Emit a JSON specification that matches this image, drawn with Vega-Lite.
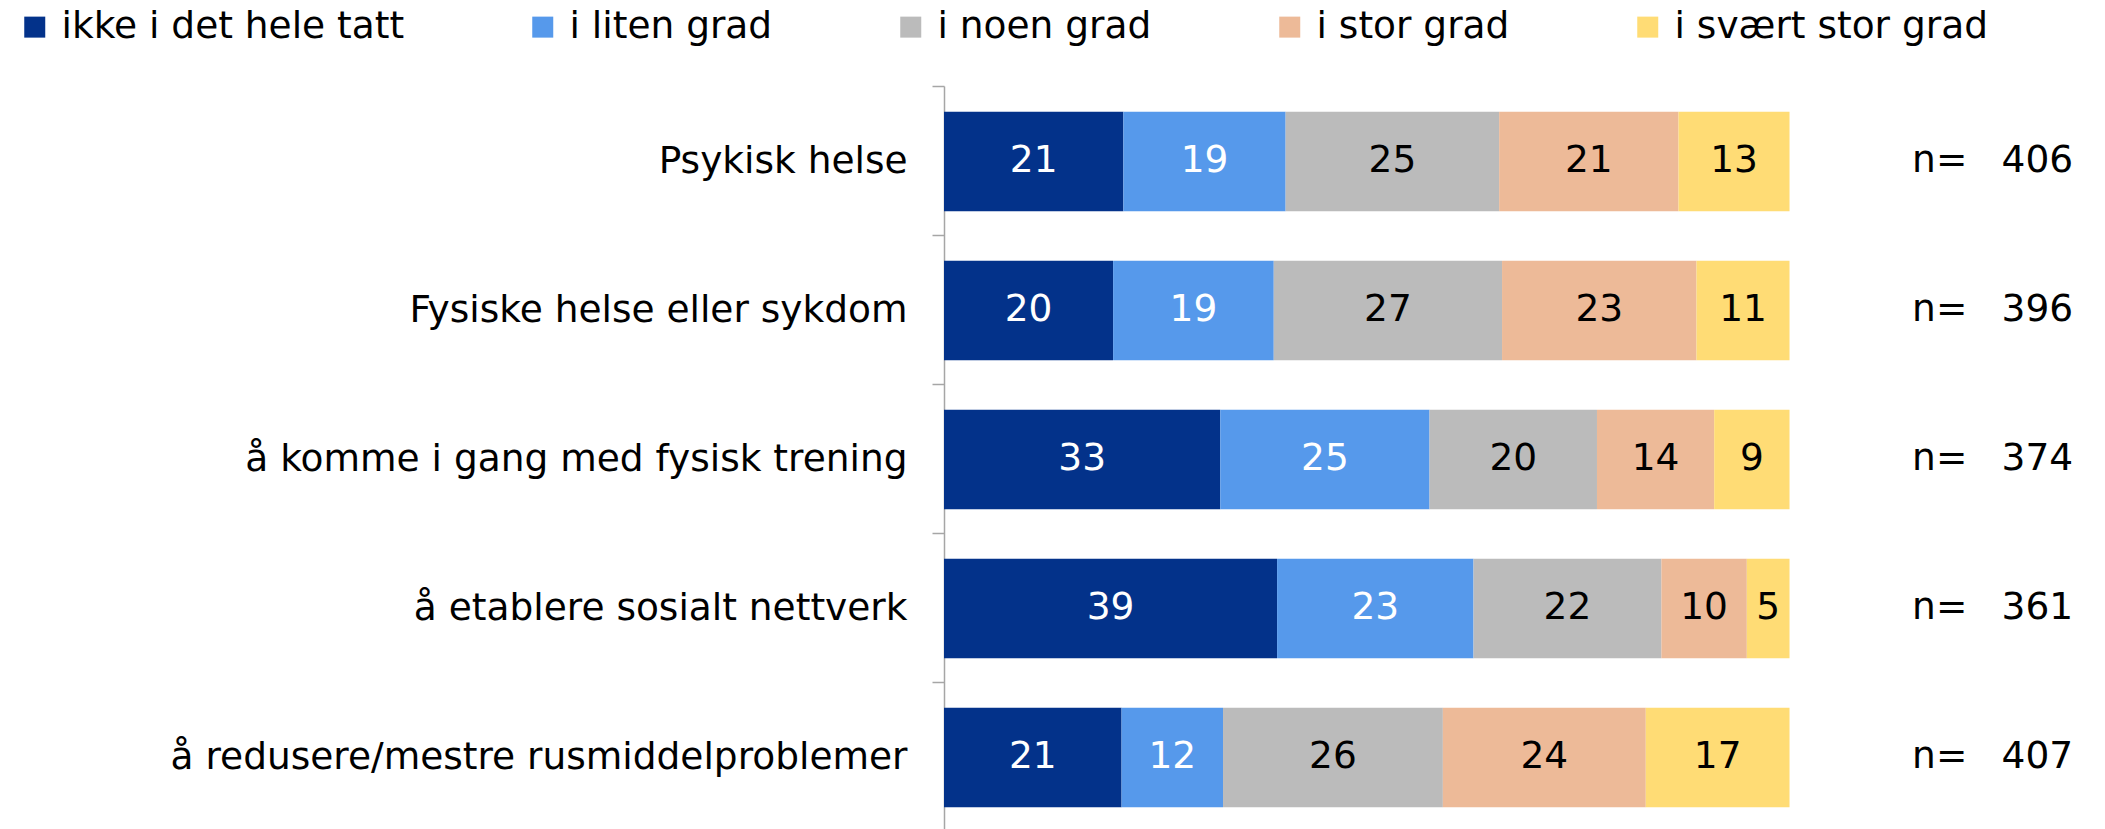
{
  "$schema": "https://vega.github.io/schema/vega-lite/v6.json",
  "width": 1133,
  "height": 743,
  "autosize": {"type": "none"},
  "padding": {"left": 944, "top": 86, "right": 28, "bottom": 0},
  "background": "white",
  "config": {
    "view": {"stroke": null},
    "font": "DejaVu Sans"
  },
  "datasets": {
    "bars": [
      {"tema": "Psykisk helse", "svar": "ikke i det hele tatt", "k": 1, "pct": 21},
      {"tema": "Psykisk helse", "svar": "i liten grad", "k": 2, "pct": 19},
      {"tema": "Psykisk helse", "svar": "i noen grad", "k": 3, "pct": 25},
      {"tema": "Psykisk helse", "svar": "i stor grad", "k": 4, "pct": 21},
      {"tema": "Psykisk helse", "svar": "i svært stor grad", "k": 5, "pct": 13},
      {"tema": "Fysiske helse eller sykdom", "svar": "ikke i det hele tatt", "k": 1, "pct": 20},
      {"tema": "Fysiske helse eller sykdom", "svar": "i liten grad", "k": 2, "pct": 19},
      {"tema": "Fysiske helse eller sykdom", "svar": "i noen grad", "k": 3, "pct": 27},
      {"tema": "Fysiske helse eller sykdom", "svar": "i stor grad", "k": 4, "pct": 23},
      {"tema": "Fysiske helse eller sykdom", "svar": "i svært stor grad", "k": 5, "pct": 11},
      {"tema": "å komme i gang med fysisk trening", "svar": "ikke i det hele tatt", "k": 1, "pct": 33},
      {"tema": "å komme i gang med fysisk trening", "svar": "i liten grad", "k": 2, "pct": 25},
      {"tema": "å komme i gang med fysisk trening", "svar": "i noen grad", "k": 3, "pct": 20},
      {"tema": "å komme i gang med fysisk trening", "svar": "i stor grad", "k": 4, "pct": 14},
      {"tema": "å komme i gang med fysisk trening", "svar": "i svært stor grad", "k": 5, "pct": 9},
      {"tema": "å etablere sosialt nettverk", "svar": "ikke i det hele tatt", "k": 1, "pct": 39},
      {"tema": "å etablere sosialt nettverk", "svar": "i liten grad", "k": 2, "pct": 23},
      {"tema": "å etablere sosialt nettverk", "svar": "i noen grad", "k": 3, "pct": 22},
      {"tema": "å etablere sosialt nettverk", "svar": "i stor grad", "k": 4, "pct": 10},
      {"tema": "å etablere sosialt nettverk", "svar": "i svært stor grad", "k": 5, "pct": 5},
      {"tema": "å redusere/mestre rusmiddelproblemer", "svar": "ikke i det hele tatt", "k": 1, "pct": 21},
      {"tema": "å redusere/mestre rusmiddelproblemer", "svar": "i liten grad", "k": 2, "pct": 12},
      {"tema": "å redusere/mestre rusmiddelproblemer", "svar": "i noen grad", "k": 3, "pct": 26},
      {"tema": "å redusere/mestre rusmiddelproblemer", "svar": "i stor grad", "k": 4, "pct": 24},
      {"tema": "å redusere/mestre rusmiddelproblemer", "svar": "i svært stor grad", "k": 5, "pct": 17}
    ],
    "nvals": [
      {"tema": "Psykisk helse", "n": 406},
      {"tema": "Fysiske helse eller sykdom", "n": 396},
      {"tema": "å komme i gang med fysisk trening", "n": 374},
      {"tema": "å etablere sosialt nettverk", "n": 361},
      {"tema": "å redusere/mestre rusmiddelproblemer", "n": 407}
    ]
  },
  "encoding": {
    "y": {
      "field": "tema",
      "type": "nominal",
      "sort": ["Psykisk helse", "Fysiske helse eller sykdom", "å komme i gang med fysisk trening", "å etablere sosialt nettverk", "å redusere/mestre rusmiddelproblemer"],
      "scale": {"paddingInner": 0.3322, "paddingOuter": 0.1594, "align": 0.541},
      "axis": {
        "title": null,
        "domainColor": "#A6A6A6",
        "domainWidth": 1.5,
        "tickColor": "#A6A6A6",
        "tickWidth": 1.5,
        "tickSize": 12,
        "bandPosition": 0,
        "tickExtra": false,
        "tickOffset": -25.7,
        "labelOffset": 25.7,
        "labelPadding": 25,
        "labelFont": "DejaVu Sans",
        "labelFontSize": 37.5,
        "labelColor": "#000000",
        "labelLimit": 900
      }
    }
  },
  "layer": [
    {
      "data": {"name": "bars"},
      "transform": [
        {"stack": "pct", "groupby": ["tema"], "sort": [{"field": "k", "order": "ascending"}], "as": ["v0", "v1"], "offset": "normalize"}
      ],
      "mark": {"type": "bar"},
      "encoding": {
        "x": {"field": "v0", "type": "quantitative", "scale": {"domain": [0, 1.34], "nice": false, "zero": true}, "axis": null},
        "x2": {"field": "v1"},
        "color": {
          "field": "svar",
          "type": "nominal",
          "sort": ["ikke i det hele tatt", "i liten grad", "i noen grad", "i stor grad", "i svært stor grad"],
          "scale": {
            "domain": ["ikke i det hele tatt", "i liten grad", "i noen grad", "i stor grad", "i svært stor grad"],
            "range": ["#03328A", "#5699EB", "#BBBBBB", "#EDBA98", "#FFDC75"]
          },
          "legend": {
            "title": null,
            "orient": "none",
            "legendX": -928,
            "legendY": -78,
            "direction": "horizontal",
            "columns": 5,
            "gridAlign": "each",
            "columnPadding": 119,
            "symbolType": "square",
            "symbolSize": 441,
            "symbolStrokeWidth": 0,
            "symbolOpacity": 1,
            "labelFont": "DejaVu Sans",
            "labelFontSize": 37.5,
            "labelColor": "#000000",
            "labelOffset": 8,
            "labelLimit": 600
          }
        }
      }
    },
    {
      "data": {"name": "bars"},
      "transform": [
        {"stack": "pct", "groupby": ["tema"], "sort": [{"field": "k", "order": "ascending"}], "as": ["v0", "v1"], "offset": "normalize"},
        {"calculate": "(datum.v0 + datum.v1) / 2", "as": "mid"}
      ],
      "mark": {"type": "text", "font": "DejaVu Sans", "fontSize": 37.5, "baseline": "middle", "align": "center"},
      "encoding": {
        "x": {"field": "mid", "type": "quantitative"},
        "text": {"field": "pct", "type": "quantitative"},
        "color": {
          "condition": {"test": "datum.k <= 2", "value": "#FFFFFF"},
          "value": "#000000"
        }
      }
    },
    {
      "data": {"name": "nvals"},
      "mark": {"type": "text", "font": "DejaVu Sans", "fontSize": 37.5, "baseline": "middle", "align": "left", "color": "#000000"},
      "encoding": {
        "x": {"datum": 1.145},
        "text": {"value": "n="}
      }
    },
    {
      "data": {"name": "nvals"},
      "mark": {"type": "text", "font": "DejaVu Sans", "fontSize": 37.5, "baseline": "middle", "align": "right", "color": "#000000"},
      "encoding": {
        "x": {"datum": 1.3355},
        "text": {"field": "n", "type": "quantitative"}
      }
    }
  ]
}
